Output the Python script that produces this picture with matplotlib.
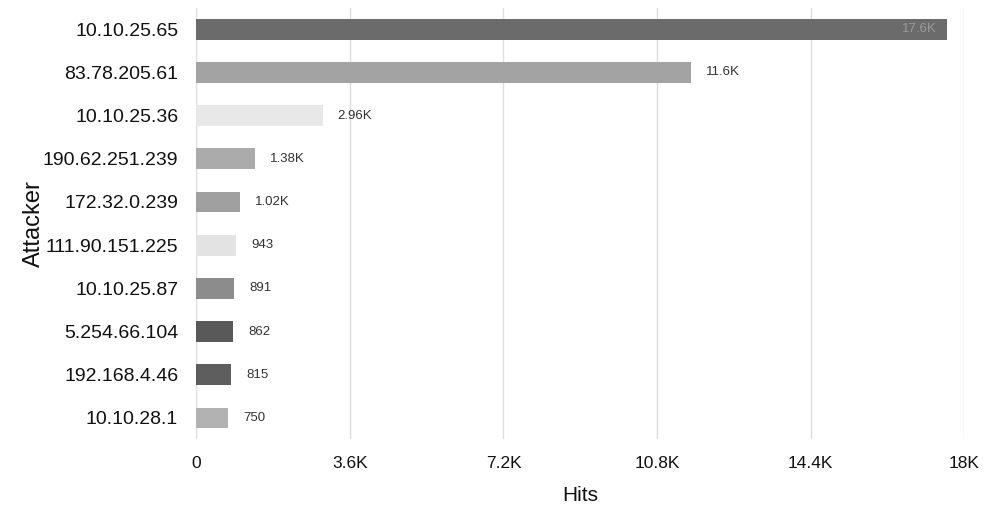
import matplotlib
matplotlib.use("Agg")
import matplotlib.pyplot as plt
from matplotlib.ticker import FuncFormatter

plt.rcParams["font.family"] = ["Liberation Sans", "DejaVu Sans"]

attackers = [
    "10.10.25.65", "83.78.205.61", "10.10.25.36", "190.62.251.239",
    "172.32.0.239", "111.90.151.225", "10.10.25.87", "5.254.66.104",
    "192.168.4.46", "10.10.28.1",
]
hits = [17600, 11600, 2960, 1380, 1020, 943, 891, 862, 815, 750]
bar_colors = [
    "#6b6b6b", "#a3a3a3", "#e8e8e8", "#ababab", "#a0a0a0",
    "#e3e3e3", "#8c8c8c", "#595959", "#5e5e5e", "#b2b2b2",
]
x_ticks = [0, 3600, 7200, 10800, 14400, 18000]


def short(v):
    if v >= 1000:
        s = f"{v / 1000:.3g}"
        return s + "K"
    return str(int(v))


fig, ax = plt.subplots(figsize=(9.86, 5.11), dpi=100)
fig.subplots_adjust(left=0.199, right=0.978, top=0.985, bottom=0.14)

ypos = list(range(len(attackers)))
ax.barh(ypos, hits, height=0.48, color=bar_colors, left=0, zorder=2)

for y, v in zip(ypos, hits):
    if v > 15000:
        ax.text(v - 250, y, short(v), ha="right", va="center",
                fontsize=9.5, color="#9a9a9a", zorder=3)
    else:
        ax.text(v + 350, y, short(v), ha="left", va="center",
                fontsize=9.5, color="#333333", zorder=3)

ax.set_yticks(ypos)
ax.set_yticklabels(attackers, fontsize=14, color="#111111")
ax.set_ylim(len(attackers) - 0.5, -0.5)

ax.set_xlim(0, 18000)
ax.set_xticks(x_ticks)
ax.xaxis.set_major_formatter(FuncFormatter(lambda v, _: short(v) if v else "0"))
ax.tick_params(axis="x", labelsize=12.5, length=0, pad=12, colors="#111111")
ax.tick_params(axis="y", length=0, pad=13)
ax.grid(axis="x", color="#dddddd", linewidth=1, zorder=0)

for side in ("top", "right", "bottom", "left"):
    ax.spines[side].set_visible(False)

ax.set_xlabel("Hits", fontsize=15, color="#111111", labelpad=11)
ax.set_ylabel("Attacker", fontsize=17, color="#111111", labelpad=-2)

fig.savefig("out.png", dpi=100, facecolor="white")
